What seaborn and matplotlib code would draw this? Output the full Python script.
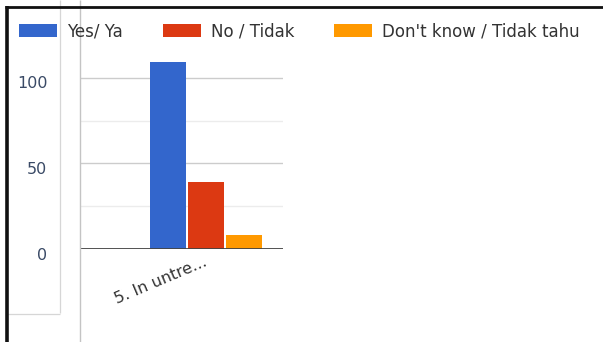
import matplotlib
matplotlib.use("Agg")
import matplotlib.pyplot as plt
import matplotlib.transforms as mtransforms
from matplotlib.lines import Line2D
from matplotlib.patches import Patch
import seaborn as sns
import pandas as pd

# Survey responses for one question
categories = ["5. In untre..."]
series = ["Yes/ Ya", "No / Tidak", "Don't know / Tidak tahu"]
counts = [109, 39, 8]
colors = ["#3366CC", "#DC3912", "#FF9900"]
y_ticks = [0, 50, 100]

df = pd.DataFrame({
    "question": categories * len(series),
    "answer": series,
    "count": counts,
})

sns.set_theme(style="white")
plt.rcParams["font.family"] = ["DejaVu Sans"]

W, H = 603, 342
fig = plt.figure(figsize=(W / 100, H / 100), dpi=100)
fig.patch.set_facecolor("white")

# plot area in pixel terms: x 80..283, baseline y 249, top y 35
ax = fig.add_axes([80 / W, (H - 249) / H, 203 / W, 214 / H])
ax.set_facecolor("white")

sns.barplot(data=df, x="question", y="count", hue="answer",
            hue_order=series, palette=colors, width=0.8, gap=0.05,
            saturation=1, ax=ax, legend=False, linewidth=0)

ax.set_ylim(0, 125)
ax.set_xlim(-0.884, 0.540)

# gridlines: major every 50, minor every 25
for v in [25, 75]:
    ax.axhline(v, color="#ececec", lw=1.0, zorder=0)
for v in [50, 100]:
    ax.axhline(v, color="#cccccc", lw=1.0, zorder=0)
ax.axhline(0, color="#444444", lw=1.3, zorder=3)

ax.set_yticks(y_ticks)
ax.set_yticklabels([str(t) for t in y_ticks], fontsize=11.5, color="#3a4a66")
ax.tick_params(axis="y", length=0, pad=23.5)
shift = mtransforms.ScaledTranslation(0, -4.5 / 100, fig.dpi_scale_trans)
for lab in ax.get_yticklabels():
    lab.set_transform(lab.get_transform() + shift)

ax.set_xticks([0])
ax.set_xticklabels(categories, rotation=23, ha="right", va="top",
                   rotation_mode="anchor", fontsize=11.5, color="#333333")
ax.tick_params(axis="x", length=0, pad=3.5)
shift_x = mtransforms.ScaledTranslation(-3 / 100, 0, fig.dpi_scale_trans)
for lab in ax.get_xticklabels():
    lab.set_transform(lab.get_transform() + shift_x)
ax.set_xlabel("")
ax.set_ylabel("")
for s in ax.spines.values():
    s.set_visible(False)

# legend across the top
handles = [Patch(facecolor=c, edgecolor="none") for c in colors]
fig.legend(handles, series, loc="center left",
           bbox_to_anchor=(19 / W, 1 - 31 / H), ncol=3, frameon=False,
           fontsize=12, handlelength=2.28, handleheight=0.84,
           handletextpad=0.6, columnspacing=2.4, labelcolor="#333333",
           borderaxespad=0, borderpad=0)

# frame lines of the panel
def fline(x0, y0, x1, y1, color, lw):
    fig.add_artist(Line2D([x0 / W, x1 / W], [1 - y0 / H, 1 - y1 / H],
                          color=color, lw=lw, transform=fig.transFigure,
                          solid_capstyle="butt"))

fline(79.5, 0, 79.5, H, "#c4c4c4", 1.0)
fline(59.5, 0, 59.5, 313, "#d6d6d6", 0.9)
fline(7, 313.5, 59.5, 313.5, "#d6d6d6", 0.9)
fline(5, 6.5, W, 6.5, "#111111", 2.0)
fline(6.5, 6, 6.5, H, "#111111", 2.6)

fig.savefig("out.png", dpi=100, facecolor="white")
